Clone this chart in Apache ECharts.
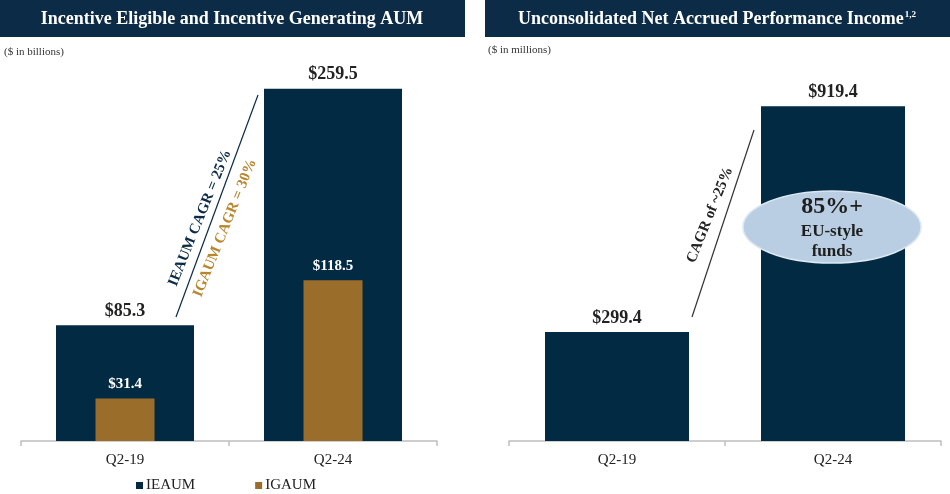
<!DOCTYPE html>
<html>
<head>
<meta charset="utf-8">
<script src="https://cdn.jsdelivr.net/npm/echarts@6/dist/echarts.min.js"></script>
<style>
  html, body { margin: 0; padding: 0; background: #ffffff; }
  #chart { width: 950px; height: 494px; }
</style>
</head>
<body>
<div id="chart"></div>
<script>
// ---- Data ----
var categories = ['Q2-19', 'Q2-24'];
var ieaum = [85.3, 259.5];          // $ billions
var igaum = [31.4, 118.5];          // $ billions
var netAccrued = [299.4, 919.4];    // $ millions
var leftTitle = 'Incentive Eligible and Incentive Generating AUM';
var rightTitle = 'Unconsolidated Net Accrued Performance Income';

var NAVY = '#022a43';
var BANNER = '#0b2b46';
var GOLD = '#9b6d2b';
var SERIF = '"Liberation Serif", "Times New Roman", serif';

var chart = echarts.init(document.getElementById('chart'));

function catAxis(grid, show) {
  return {
    type: 'category', gridIndex: grid, data: categories, show: show,
    axisLine: { show: true, lineStyle: { color: '#bfbfbf', width: 1.5 } },
    axisTick: { show: true, alignWithLabel: false, length: 5, lineStyle: { color: '#bfbfbf', width: 1.5 } },
    axisLabel: { fontFamily: SERIF, fontSize: 15, color: '#222', margin: 12 }
  };
}

function valueLabel(color, size, dist) {
  return {
    show: true, position: 'top', distance: dist, color: color,
    fontFamily: SERIF, fontWeight: 'bold', fontSize: size,
    formatter: function (p) { return '$' + p.value.toFixed(1); }
  };
}

var option = {
  backgroundColor: '#ffffff',
  animation: false,
  grid: [
    { left: 21, width: 416, top: 61, height: 380 },
    { left: 509, width: 432, top: 77, height: 364 }
  ],
  xAxis: [catAxis(0, true), catAxis(0, false), catAxis(1, true)],
  yAxis: [
    { type: 'value', gridIndex: 0, min: 0, max: 280, show: false },
    { type: 'value', gridIndex: 1, min: 0, max: 1000, show: false }
  ],
  legend: {
    data: ['IEAUM', 'IGAUM'],
    left: 131, top: 473,
    icon: 'rect', itemWidth: 7, itemHeight: 7, itemGap: 60,
    textStyle: { fontFamily: SERIF, fontSize: 15, color: '#222', padding: [0, 0, 0, -2] }
  },
  series: [
    {
      name: 'IEAUM', type: 'bar', xAxisIndex: 0, yAxisIndex: 0,
      data: ieaum, barWidth: 138, itemStyle: { color: NAVY },
      label: valueLabel('#222', 18, 5)
    },
    {
      name: 'IGAUM', type: 'bar', xAxisIndex: 1, yAxisIndex: 0,
      data: igaum, barWidth: 59, itemStyle: { color: GOLD },
      label: valueLabel('#ffffff', 15, 7)
    },
    {
      name: 'Net Accrued', type: 'bar', xAxisIndex: 2, yAxisIndex: 1,
      data: netAccrued, barWidth: 144, itemStyle: { color: NAVY },
      label: valueLabel('#222', 18, 5)
    }
  ],
  graphic: [
    // title banners
    { type: 'rect', shape: { x: 0, y: 0, width: 465, height: 37 }, style: { fill: BANNER }, z: 10 },
    { type: 'rect', shape: { x: 485, y: 0, width: 465, height: 37 }, style: { fill: BANNER }, z: 10 },
    { type: 'text', x: 232, y: 19, z: 11,
      style: { text: leftTitle, fill: '#ffffff', font: 'bold 18px ' + SERIF, align: 'center', verticalAlign: 'middle' } },
    { type: 'text', x: 717, y: 19, z: 11,
      style: {
        text: '{t|' + rightTitle + '}{s|1,2}',
        align: 'center', verticalAlign: 'middle',
        rich: {
          t: { fill: '#ffffff', font: 'bold 18px ' + SERIF },
          s: { fill: '#ffffff', font: 'bold 9px ' + SERIF, verticalAlign: 'top', padding: [0, 0, 8, 1] }
        }
      } },
    // unit notes
    { type: 'text', x: 4, y: 52, style: { text: '($ in billions)', fill: '#333', font: '11px ' + SERIF, verticalAlign: 'middle' } },
    { type: 'text', x: 488, y: 50, style: { text: '($ in millions)', fill: '#333', font: '11px ' + SERIF, verticalAlign: 'middle' } },
    // left CAGR annotation
    { type: 'line', shape: { x1: 176, y1: 317, x2: 258, y2: 95 }, style: { stroke: '#0b2b46', lineWidth: 1.2 } },
    { type: 'text', x: 200, y: 218, rotation: 68 * Math.PI / 180,
      style: { text: 'IEAUM CAGR = 25%', fill: '#0b2b46', font: 'bold 15px ' + SERIF, align: 'center', verticalAlign: 'middle' } },
    { type: 'text', x: 225, y: 228, rotation: 68 * Math.PI / 180,
      style: { text: 'IGAUM CAGR = 30%', fill: '#b8862e', font: 'bold 15px ' + SERIF, align: 'center', verticalAlign: 'middle' } },
    // right CAGR annotation
    { type: 'line', shape: { x1: 692, y1: 317, x2: 754, y2: 130 }, style: { stroke: '#333', lineWidth: 1.2 } },
    { type: 'text', x: 710, y: 215, rotation: 68 * Math.PI / 180,
      style: { text: 'CAGR of ~25%', fill: '#222', font: 'bold 15px ' + SERIF, align: 'center', verticalAlign: 'middle' } },
    // ellipse callout
    { type: 'ellipse', shape: { cx: 832, cy: 227, rx: 89, ry: 36 }, style: { fill: '#b9cee2', stroke: '#dce7f1', lineWidth: 1.5 }, z: 20 },
    { type: 'text', x: 832, y: 207, z: 21,
      style: { text: '85%+', fill: '#1e1e1e', font: 'bold 24px ' + SERIF, align: 'center', verticalAlign: 'middle' } },
    { type: 'text', x: 832, y: 232, z: 21,
      style: { text: 'EU-style', fill: '#1e1e1e', font: 'bold 17px ' + SERIF, align: 'center', verticalAlign: 'middle' } },
    { type: 'text', x: 832, y: 252, z: 21,
      style: { text: 'funds', fill: '#1e1e1e', font: 'bold 17px ' + SERIF, align: 'center', verticalAlign: 'middle' } }
  ]
};

chart.setOption(option);
</script>
</body>
</html>
